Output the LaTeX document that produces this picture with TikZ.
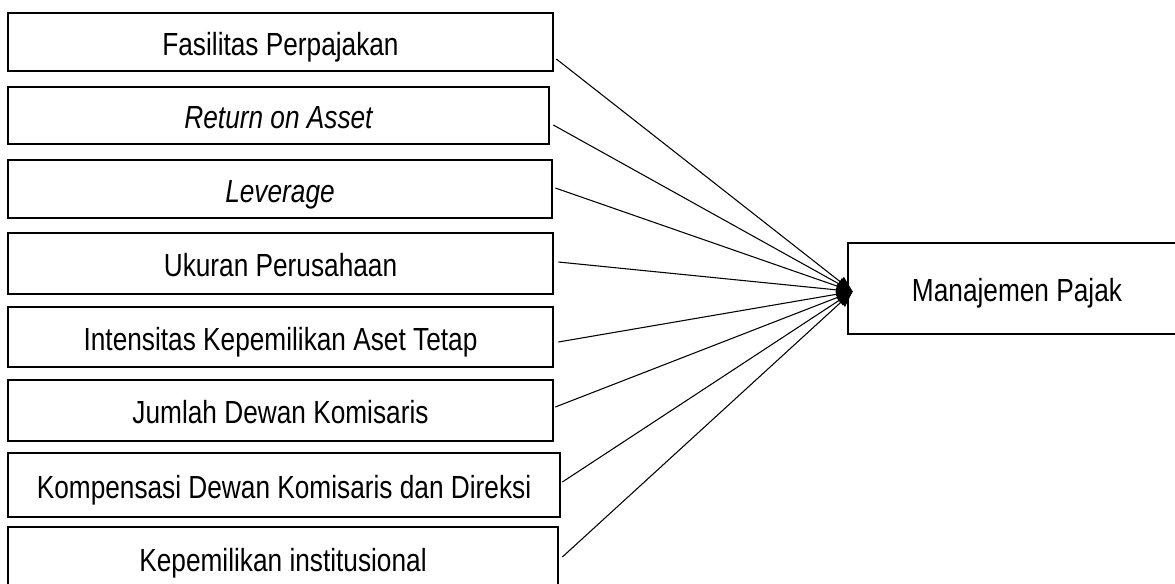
\documentclass[tikz,border=0pt]{standalone}
\usepackage{fontspec}
\setmainfont{Liberation Sans}[FakeStretch=0.82]
\usetikzlibrary{arrows.meta}
\begin{document}
\begin{tikzpicture}[x=0.75pt,y=-0.75pt,
  box/.style={draw=black,line width=2pt,inner sep=0pt,text height=20pt,text depth=0pt,font=\fontsize{24}{28}\selectfont},
  conn/.style={draw=black,line width=0.8pt,-{Triangle[length=12pt,width=9pt]}}]
\clip (0,0) rectangle (1175,583);
\fill[white] (0,0) rectangle (1175,583);
\node[box,minimum width=408.75pt,minimum height=43.5pt] (b1) at (280.5,42) {Fasilitas Perpajakan};
\node[box,minimum width=405.75pt,minimum height=42.75pt] (b2) at (278.5,115.5) {\itshape Return on Asset};
\node[box,minimum width=408pt,minimum height=43.5pt] (b3) at (280,189) {\itshape Leverage};
\node[box,minimum width=408.75pt,minimum height=45.75pt] (b4) at (280.5,263.5) {Ukuran Perusahaan};
\node[box,minimum width=408.75pt,minimum height=45pt] (b5) at (280.5,337) {Intensitas Kepemilikan Aset Tetap};
\node[box,minimum width=408.75pt,minimum height=45.75pt] (b6) at (280.5,410.5) {Jumlah Dewan Komisaris};
\node[box,minimum width=414pt,minimum height=48pt] (b7) at (284,485) {Kompensasi Dewan Komisaris dan Direksi};
\node[box,minimum width=412.5pt,minimum height=47.25pt] (b8) at (283,558.5) {Kepemilikan institusional};
\node[box,minimum width=253.5pt,minimum height=68.25pt] (t) at (1017,288.5) {Manajemen Pajak};
\coordinate (tip) at ([shift={(6,3)}]t.west);
\draw[conn] ([shift={(2,17)}]b1.east) -- (tip);
\draw[conn] ([shift={(3,9.5)}]b2.east) -- (tip);
\draw[conn] ([shift={(2,-1)}]b3.east) -- (tip);
\draw[conn] ([shift={(4,-1.5)}]b4.east) -- (tip);
\draw[conn] ([shift={(4,5)}]b5.east) -- (tip);
\draw[conn] ([shift={(1,-3.5)}]b6.east) -- (tip);
\draw[conn] ([shift={(1,-3)}]b7.east) -- (tip);
\draw[conn] ([shift={(3,-1.5)}]b8.east) -- (tip);
\end{tikzpicture}
\end{document}
